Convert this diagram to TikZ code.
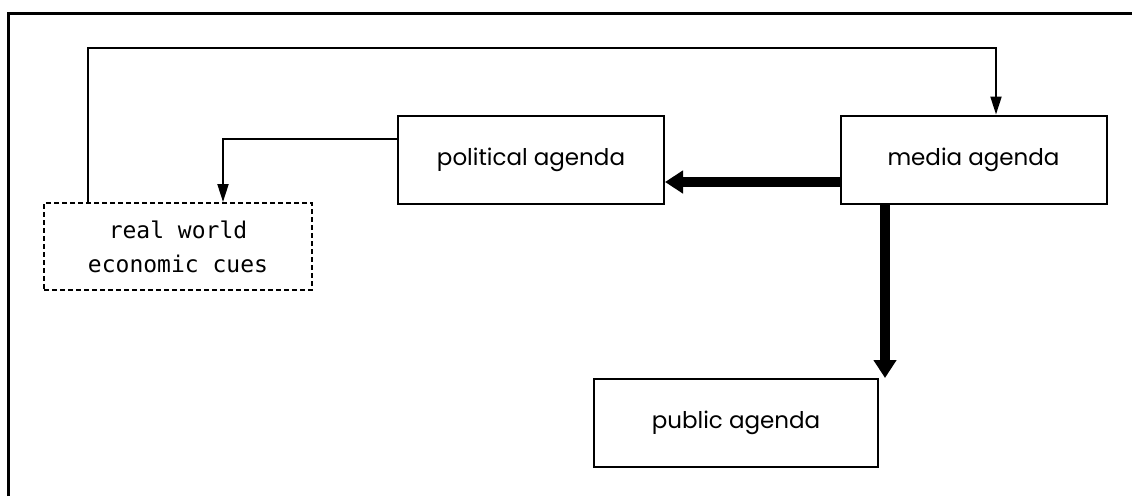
\documentclass[tikz,border=0pt]{standalone}
\usepackage{fontspec}
\setmainfont{Poppins}
\newfontfamily\cuefont{DejaVu Sans Mono}
\usetikzlibrary{arrows.meta}

\begin{document}
\begin{tikzpicture}[x=1pt, y=-1pt,
    agenda/.style={draw, line width=2pt, minimum width=266pt, minimum height=88pt, inner sep=0pt, font=\fontsize{23}{28}\selectfont},
    cues/.style={agenda, dashed, dash pattern=on 5pt off 3pt, minimum width=268pt, minimum height=87pt, align=center, font=\cuefont\fontsize{23}{34}\selectfont},
    link/.style={line width=2pt, -{Triangle[length=18pt, width=11pt]}},
    strong/.style={line width=10pt, -{Triangle[length=18pt, width=22pt]}}]

\useasboundingbox (0,0) rectangle (1132,496);

% frame
\draw[line width=3pt] (8,496) -- (8,13) -- (1132,13);

\node[agenda] (pol) at (531,159.5) {political agenda};
\node[agenda] (media) at (973.5,159.5) {media agenda};
\node[agenda, minimum width=284pt] (public) at (736,423) {public agenda};
\node[cues] (real) at (178,246.5) {real world\\economic cues};

\draw[link] (real.north -| 88,0) -- ++(0,-154) -| (media.north -| 996,0);
\draw[link] (pol.west |- 0,139) -| (real.north -| 223,0);

\draw[strong] (media.west |- 0,182) -- (pol.east |- 0,182);
\draw[strong] (media.south -| 885,0) -- (public.north -| 885,0);

\end{tikzpicture}
\end{document}
